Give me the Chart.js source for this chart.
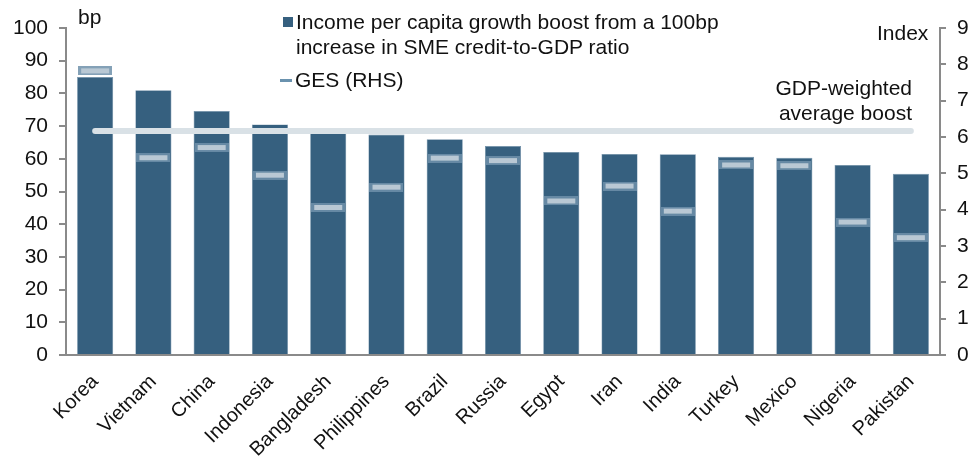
<!DOCTYPE html>
<html>
<head>
<meta charset="utf-8">
<script src="https://cdn.jsdelivr.net/npm/chart.js@4/dist/chart.umd.min.js"></script>
<style>
  body { margin: 0; background: #fff; font-family: "Liberation Sans", Arial, sans-serif; color: #111; }
  #wrap { position: relative; width: 976px; height: 462px; }
  canvas { position: absolute; left: 0; top: 0; }
  .txt { position: absolute; font-size: 21px; line-height: 25px; white-space: nowrap; }
  .sq { position: absolute; width: 10px; height: 10px; background: #36607f; }
  .dash { position: absolute; width: 12px; height: 3px; background: #6a92ae; }
</style>
</head>
<body>
<div id="wrap">
  <canvas id="smeChart" width="976" height="462"></canvas>
  <div class="txt" style="left:78px; top:4px;">bp</div>
  <div class="txt" style="left:877px; top:20px;">Index</div>
  <div class="sq" style="left:283px; top:17px;"></div>
  <div class="txt" style="left:296px; top:9px;">Income per capita growth boost from a 100bp<br>increase in SME credit-to-GDP ratio</div>
  <div class="dash" style="left:280px; top:79px;"></div>
  <div class="txt" style="left:295px; top:67px;">GES (RHS)</div>
  <div class="txt" style="right:64px; top:75px; text-align:right;">GDP-weighted<br>average boost</div>
</div>
<script>
// Countries, sorted by income boost
const countries = ['Korea', 'Vietnam', 'China', 'Indonesia', 'Bangladesh', 'Philippines', 'Brazil',
                   'Russia', 'Egypt', 'Iran', 'India', 'Turkey', 'Mexico', 'Nigeria', 'Pakistan'];

// Income per capita growth boost (bp, LHS)
const incomeBoost = [85, 81, 74.6, 70.5, 68, 67.4, 66, 63.9, 62.1, 61.5, 61.4, 60.6, 60.3, 58.1, 55.4];

// GES index (RHS)
const gesIndex = [7.82, 5.43, 5.71, 4.95, 4.06, 4.62, 5.42, 5.35, 4.24, 4.65, 3.96, 5.23, 5.21, 3.66, 3.23];

// GDP-weighted average boost (bp)
const avgBoost = 68.5;

// Axis ticks
const leftTicks = [0, 10, 20, 30, 40, 50, 60, 70, 80, 90, 100];
const rightTicks = [0, 1, 2, 3, 4, 5, 6, 7, 8, 9];

const barColor = '#36607f';
const axisColor = '#8a8a8a';
const tickFont = { family: '"Liberation Sans", Arial, sans-serif', size: 21 };
const catFont = { family: '"Liberation Sans", Arial, sans-serif', size: 20 };

// Small horizontal marker used for the GES points
function makeMarker() {
    const c = document.createElement('canvas');
    c.width = 34;
    c.height = 9;
    const g = c.getContext('2d');
    g.fillStyle = 'rgba(110, 144, 170, 0.85)';
    g.fillRect(0, 0, 34, 9);
    g.fillStyle = '#b9c8d4';
    g.fillRect(3, 2, 28, 5);
    return c;
}

document.addEventListener('DOMContentLoaded', function() {
    const ctx = document.getElementById('smeChart').getContext('2d');
    new Chart(ctx, {
        type: 'bar',
        data: {
            labels: countries,
            datasets: [
                {
                    type: 'line',
                    label: 'GES (RHS)',
                    data: gesIndex,
                    yAxisID: 'y1',
                    showLine: false,
                    pointStyle: makeMarker(),
                    pointRadius: 10,
                    pointHoverRadius: 10,
                    order: 1
                },
                {
                    type: 'line',
                    label: 'GDP-weighted average boost',
                    data: countries.map(() => avgBoost),
                    yAxisID: 'y',
                    borderColor: '#d9e1e6',
                    borderWidth: 6,
                    borderCapStyle: 'round',
                    pointRadius: 0,
                    order: 2
                },
                {
                    label: 'Income per capita growth boost from a 100bp increase in SME credit-to-GDP ratio',
                    data: incomeBoost,
                    yAxisID: 'y',
                    backgroundColor: barColor,
                    borderColor: '#6f8fa8',
                    borderWidth: 0.6,
                    barPercentage: 0.62,
                    categoryPercentage: 1.0,
                    order: 3
                }
            ]
        },
        options: {
            responsive: false,
            animation: false,
            layout: { padding: { top: 28, left: 0, right: 0, bottom: 0 } },
            plugins: {
                legend: { display: false },
                tooltip: { enabled: false }
            },
            scales: {
                x: {
                    offset: true,
                    grid: { display: false },
                    border: { display: true, color: axisColor, width: 2 },
                    ticks: {
                        color: '#111',
                        font: catFont,
                        minRotation: 45,
                        maxRotation: 45,
                        padding: 7,
                        autoSkip: false
                    },
                    afterFit: function(scale) { scale.height = 107; }
                },
                y: {
                    position: 'left',
                    min: 0,
                    max: 100,
                    afterBuildTicks: function(scale) {
                        scale.ticks = leftTicks.map(v => ({ value: v }));
                    },
                    grid: { drawOnChartArea: false, color: axisColor, tickLength: 7, lineWidth: 2 },
                    border: { color: axisColor, width: 2 },
                    ticks: { color: '#111', font: tickFont, padding: 11 },
                    afterFit: function(scale) { scale.width = 66; }
                },
                y1: {
                    position: 'right',
                    min: 0,
                    max: 9,
                    afterBuildTicks: function(scale) {
                        scale.ticks = rightTicks.map(v => ({ value: v }));
                    },
                    grid: { drawOnChartArea: false, color: axisColor, tickLength: 6, lineWidth: 2 },
                    border: { color: axisColor, width: 2 },
                    ticks: { color: '#111', font: tickFont, padding: 11 },
                    afterFit: function(scale) { scale.width = 36; }
                }
            }
        }
    });
});
</script>
</body>
</html>
